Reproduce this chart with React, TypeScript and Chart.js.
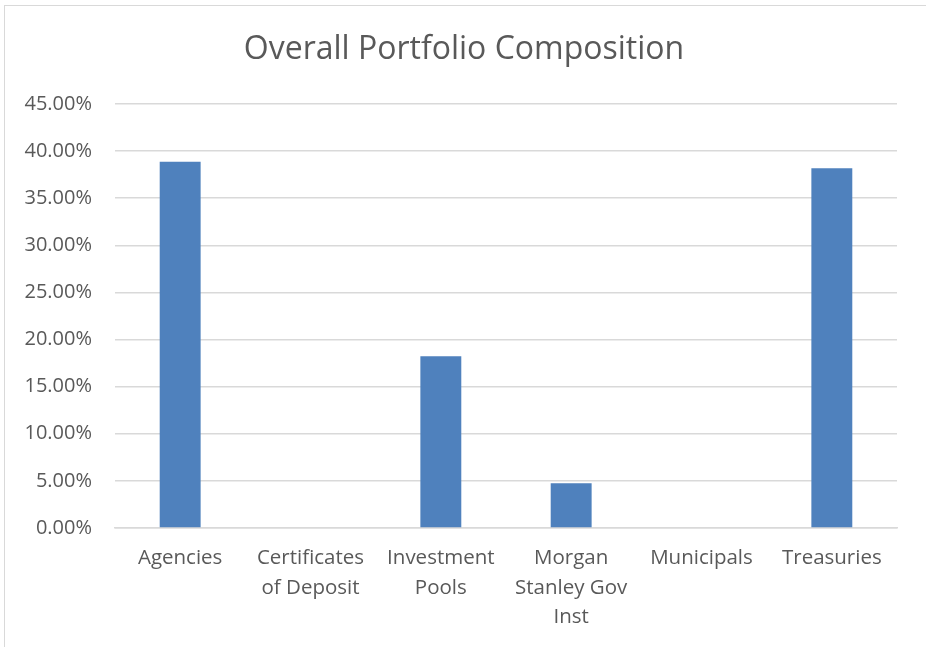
import React, { useEffect, useRef } from "react";
import { Chart, registerables } from "chart.js";

Chart.register(...registerables);

const TITLE = "Overall Portfolio Composition";
const categories: string[][] = [
  ["Agencies"],
  ["Certificates", "of Deposit"],
  ["Investment", "Pools"],
  ["Morgan", "Stanley Gov", "Inst"],
  ["Municipals"],
  ["Treasuries"],
];
const shares: number[] = [38.86, 0, 18.22, 4.74, 0, 38.18];
const yMin = 0;
const yMax = 45;
const yStep = 5;

const FONT = "'Open Sans', 'DejaVu Sans', sans-serif";
const TEXT = "#595959";
const GRID = "#d9d9d9";

const titlePlugin = {
  id: "pageTitle",
  afterDraw(chart: any) {
    const ctx = chart.ctx;
    ctx.save();
    ctx.fillStyle = TEXT;
    ctx.font = `32px ${FONT}`;
    ctx.textAlign = "center";
    ctx.textBaseline = "middle";
    ctx.fillText(TITLE, chart.width / 2 + 1, 50);
    ctx.restore();
  },
};

export default function App() {
  const ref = useRef<HTMLCanvasElement | null>(null);

  useEffect(() => {
    document.body.style.margin = "0";
    document.body.style.background = "#ffffff";
    if (!ref.current) return;
    const chart = new Chart(ref.current, {
      type: "bar",
      data: {
        labels: categories as any,
        datasets: [
          {
            data: shares,
            backgroundColor: "#4f81bd",
            borderWidth: 0,
            categoryPercentage: 1,
            barPercentage: 0.314,
          },
        ],
      },
      options: {
        animation: false,
        responsive: false,
        maintainAspectRatio: false,
        layout: { padding: { left: 0, right: 29, top: 104, bottom: 0 } },
        plugins: {
          legend: { display: false },
          tooltip: { enabled: false },
          title: { display: false },
        },
        scales: {
          x: {
            grid: { display: false, drawTicks: false },
            border: { display: true, color: GRID, width: 1.5 },
            ticks: {
              color: TEXT,
              font: { family: FONT, size: 20.5, lineHeight: 1.42 },
              padding: 16,
              maxRotation: 0,
              autoSkip: false,
            },
            afterFit: (s: any) => {
              s.height = 119;
            },
          },
          y: {
            min: yMin,
            max: yMax,
            border: { display: false },
            grid: { color: GRID, lineWidth: 1.5, drawTicks: false },
            ticks: {
              stepSize: yStep,
              color: TEXT,
              font: { family: FONT, size: 20 },
              padding: 23,
              callback: (v: any) => Number(v).toFixed(2) + "%",
            },
            afterFit: (s: any) => {
              s.width = 115;
            },
          },
        },
      },
      plugins: [titlePlugin],
    });
    return () => chart.destroy();
  }, []);

  return (
    <div style={{ position: "fixed", left: 0, top: 0, width: 926, height: 647, background: "#fff", overflow: "hidden" }}>
      <div
        style={{
          position: "absolute",
          left: 4,
          top: 5,
          width: 930,
          height: 650,
          borderLeft: "1px solid #d9d9d9",
          borderTop: "1px solid #d9d9d9",
        }}
      />
      <canvas ref={ref} width={926} height={647} style={{ position: "absolute", left: 0, top: 0 }} />
    </div>
  );
}
